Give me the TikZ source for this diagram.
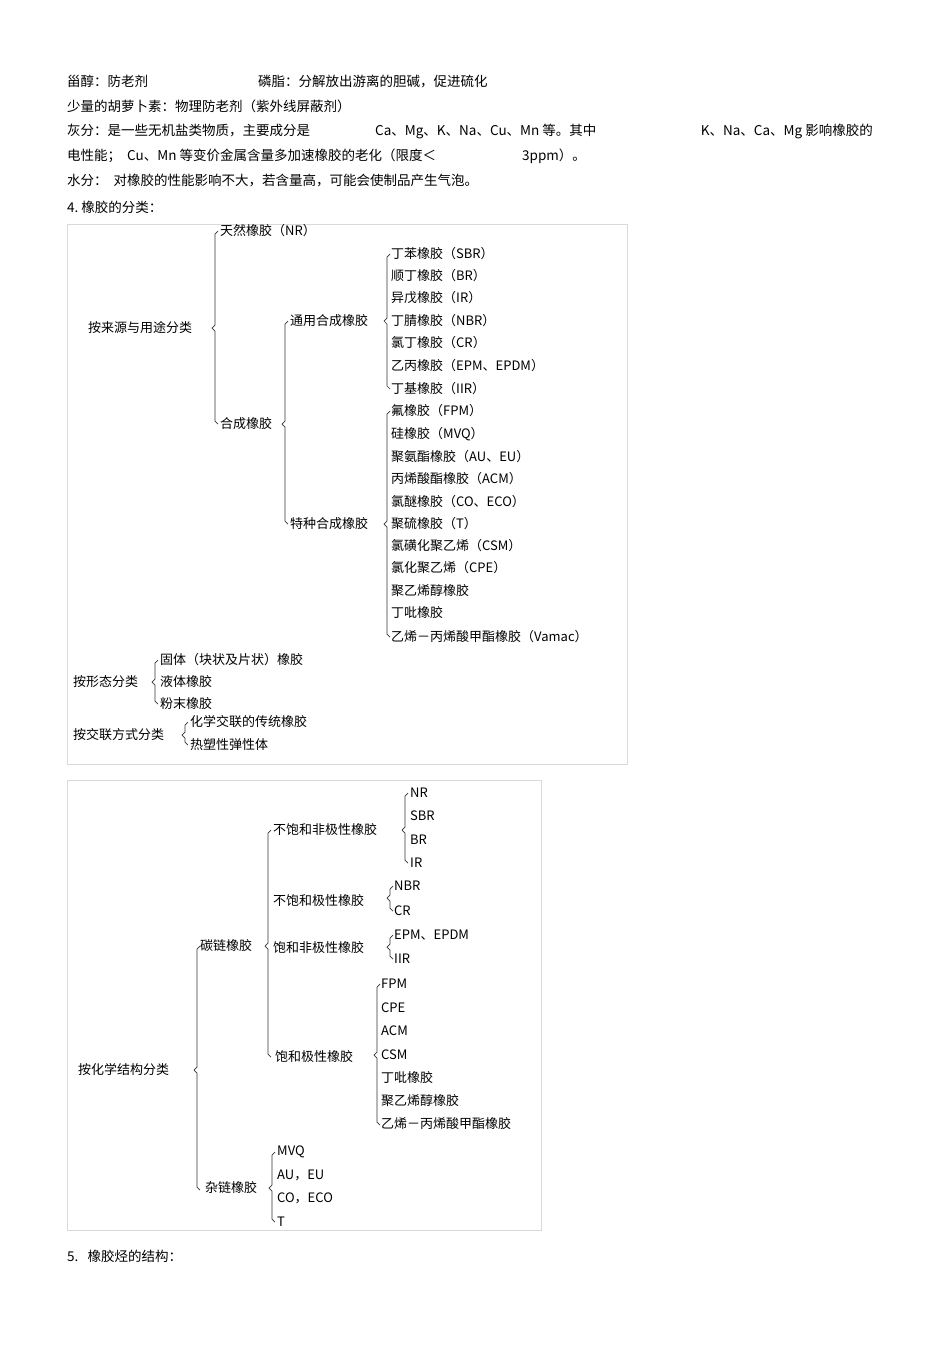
\documentclass[tikz,border=0pt]{standalone}
\usepackage{fontspec}
\setmainfont{Noto Sans CJK SC}
\newcommand\brk[4]{\draw[brace] (#1+3,#2) -- (#1,#2+3) -- (#1,#4-3) -- (#1-3,#4) -- (#1,#4+3) -- (#1,#3-3) -- (#1+3,#3);}
\begin{document}
\begin{tikzpicture}[x=1pt,y=-1pt,
  t/.style={anchor=west,inner sep=0pt,font=\fontsize{13.5}{14}\selectfont},
  d/.style={anchor=west,inner sep=0pt,font=\fontsize{13}{14}\selectfont},
  brace/.style={line width=0.7pt,black!80},
  frame/.style={draw=black!15,line width=0.8pt}]
\useasboundingbox (0,0) rectangle (950,1345);
% top text
\node[t] (a1) at (67,81) {甾醇：防老剂};
\node[t] (a2) at (258,81) {磷脂：分解放出游离的胆碱，促进硫化};
\node[t] (a3) at (67,106) {少量的胡萝卜素：物理防老剂（紫外线屏蔽剂）};
\node[t] (a4) at (67,131) {灰分：是一些无机盐类物质，主要成分是};
\node[t] (a5) at (375,131) {Ca、Mg、K、Na、Cu、Mn\ 等。其中};
\node[t,anchor=east] (a6) at (873,131) {K、Na、Ca、Mg\ 影响橡胶的};
\node[t] (a7) at (67,156) {电性能；\ \ Cu、Mn\ 等变价金属含量多加速橡胶的老化（限度＜};
\node[t] (a8) at (522,156) {3ppm）。};
\node[t] (a9) at (67,181) {水分：\ \ 对橡胶的性能影响不大，若含量高，可能会使制品产生气泡。};
\node[t] (a10) at (67,207) {4.\ 橡胶的分类：};
\node[t] (a11) at (67,1256) {5.\ \ \ 橡胶烃的结构：};
% box 1
\draw[frame] (67,224) rectangle (627,764);
\node[d] (r1) at (88,328) {按来源与用途分类};
\brk{215}{231}{424}{328}
\node[d] (nr) at (220,231) {天然橡胶（NR）};
\node[d] (syn) at (220,424) {合成橡胶};
\brk{285}{321}{524}{424}
\node[d] (gen) at (290,321) {通用合成橡胶};
\brk{387}{254}{389}{321}
\foreach \n/\y/\s in {g1/254/丁苯橡胶（SBR）,g2/276/顺丁橡胶（BR）,g3/298/异戊橡胶（IR）,g4/321/丁腈橡胶（NBR）,g5/343/氯丁橡胶（CR）,g6/366/乙丙橡胶（EPM、EPDM）,g7/389/丁基橡胶（IIR）}
  \node[d] (\n) at (391,\y) {\s};
\node[d] (spc) at (290,524) {特种合成橡胶};
\brk{387}{411}{637}{524}
\foreach \n/\y/\s in {s1/411/氟橡胶（FPM）,s2/434/硅橡胶（MVQ）,s3/457/聚氨酯橡胶（AU、EU）,s4/479/丙烯酸酯橡胶（ACM）,s5/502/氯醚橡胶（CO、ECO）,s6/524/聚硫橡胶（T）,s7/546/氯磺化聚乙烯（CSM）,s8/568/氯化聚乙烯（CPE）,s9/591/聚乙烯醇橡胶,s10/613/丁吡橡胶,s11/637/乙烯－丙烯酸甲酯橡胶（Vamac）}
  \node[d] (\n) at (391,\y) {\s};
\node[d] (r2) at (73,682) {按形态分类};
\brk{155}{660}{704}{682}
\node[d] (f1) at (160,660) {固体（块状及片状）橡胶};
\node[d] (f2) at (160,682) {液体橡胶};
\node[d] (f3) at (160,704) {粉末橡胶};
\node[d] (r3) at (73,735) {按交联方式分类};
\brk{185}{722}{745}{735}
\node[d] (x1) at (190,722) {化学交联的传统橡胶};
\node[d] (x2) at (190,745) {热塑性弹性体};
% box 2
\draw[frame] (67,780) rectangle (541,1230);
\begin{scope}
\clip (67,780) rectangle (541,1230);
\node[d] (c0) at (78,1070) {按化学结构分类};
\brk{197}{946}{1190}{1070}
\node[d] (cc) at (200,946) {碳链橡胶};
\brk{268}{830}{1057}{946}
\node[d] (u1) at (273,830) {不饱和非极性橡胶};
\brk{405}{793}{863}{830}
\foreach \n/\y/\s in {u1a/793/NR,u1b/816/SBR,u1c/840/BR,u1d/863/IR}
  \node[d] (\n) at (410,\y) {\s};
\node[d] (u2) at (273,901) {不饱和极性橡胶};
\brk{390}{886}{911}{898}
\node[d] (u2a) at (394,886) {NBR};
\node[d] (u2b) at (394,911) {CR};
\node[d] (u3) at (273,948) {饱和非极性橡胶};
\brk{390}{935}{959}{947}
\node[d] (u3a) at (394,935) {EPM、EPDM};
\node[d] (u3b) at (394,959) {IIR};
\node[d] (u4) at (275,1057) {饱和极性橡胶};
\brk{377}{984}{1125}{1055}
\foreach \n/\y/\s in {p1/984/FPM,p2/1008/CPE,p3/1031/ACM,p4/1055/CSM,p5/1078/丁吡橡胶,p6/1101/聚乙烯醇橡胶,p7/1124/乙烯－丙烯酸甲酯橡胶}
  \node[d] (\n) at (381,\y) {\s};
\node[d] (hc) at (205,1188) {杂链橡胶};
\brk{272}{1152}{1222}{1188}
\foreach \n/\y/\s in {h1/1152/MVQ,h2/1175/AU，EU,h3/1198/CO，ECO,h4/1222/T}
  \node[d] (\n) at (277,\y) {\s};
\end{scope}
\end{tikzpicture}
\end{document}
